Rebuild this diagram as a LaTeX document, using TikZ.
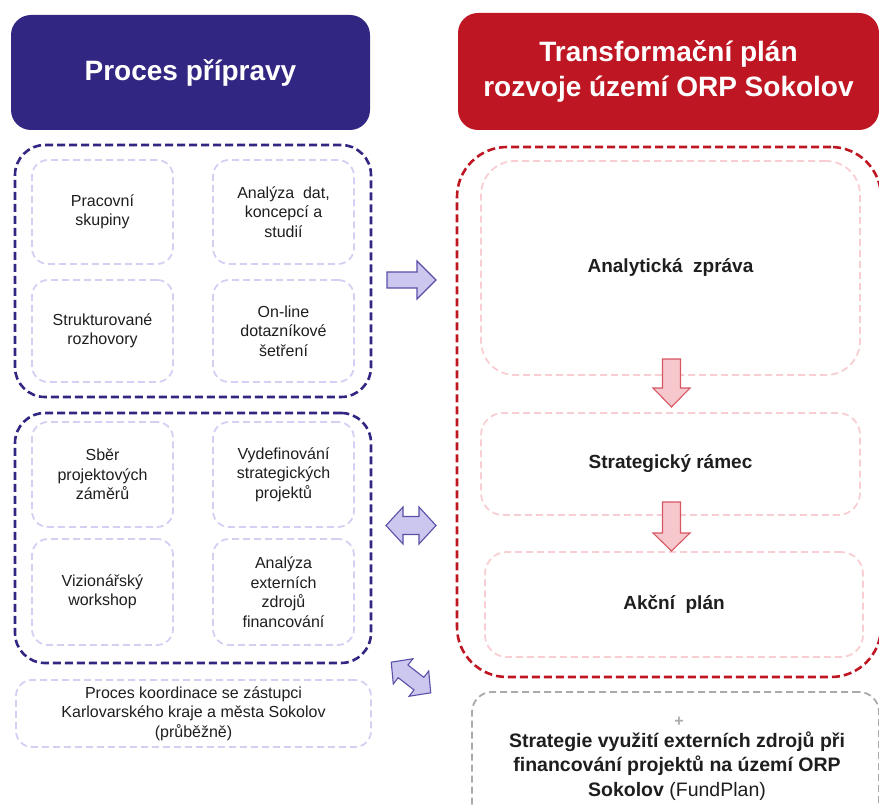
\documentclass[tikz,border=0pt]{standalone}
\usepackage{fontspec}
\setmainfont{Liberation Sans}
\definecolor{navy}{RGB}{49,39,131}
\definecolor{dred}{RGB}{190,22,34}
\definecolor{lav}{RGB}{212,207,243}
\definecolor{pinkl}{RGB}{248,206,210}
\definecolor{lavfill}{RGB}{204,199,238}
\definecolor{lavline}{RGB}{88,80,168}
\definecolor{pinkfill}{RGB}{246,199,204}
\definecolor{pinkline}{RGB}{214,86,98}
\definecolor{greyd}{RGB}{170,170,170}
\definecolor{txt}{RGB}{30,30,30}
\begin{document}
\begin{tikzpicture}[x=1pt,y=-1pt,
  header/.style={fill=#1, draw=none, rounded corners=20pt, text=white,
    font=\fontsize{28}{35}\selectfont\bfseries, align=center, inner sep=0pt, outer sep=0pt},
  outerbox/.style={draw=#1, line width=2.6pt, dash pattern=on 8pt off 4pt,
    rounded corners=30pt, inner sep=0pt, outer sep=0pt},
  itembox/.style={draw=lav, line width=1.8pt, dash pattern=on 7pt off 4pt,
    rounded corners=16pt, align=center, text=txt,
    font=\fontsize{16}{19.5}\selectfont, inner sep=0pt, outer sep=0pt},
  stagebox/.style={draw=pinkl, line width=1.8pt, dash pattern=on 7pt off 4pt,
    rounded corners=#1, align=center, text=txt,
    font=\fontsize{19}{23}\selectfont\bfseries, inner sep=0pt, outer sep=0pt},
  larrow/.style={fill=lavfill, draw=lavline, line width=1.1pt, line join=miter},
  parrow/.style={fill=pinkfill, draw=pinkline, line width=1.1pt, line join=miter}
]
\useasboundingbox (0,0) rectangle (879,805);

% headers
\node[header=navy, minimum width=359, minimum height=115] (hl) at (190.5,72.5) {Proces přípravy};
\node[header=dred, minimum width=421, minimum height=117] (hr) at (668.5,71.5) {Transformační plán\\rozvoje území ORP Sokolov};

% left group 1
\node[outerbox=navy, minimum width=356, minimum height=252] (g1) at (193,271) {};
\node[itembox, minimum width=141, minimum height=104] (pw) at (102.5,212) {Pracovní\\skupiny};
\node[itembox, minimum width=141, minimum height=104] (an) at (283.5,212) {Analýza\ \ dat,\\koncepcí a\\studií};
\node[itembox, minimum width=141, minimum height=102] (st) at (102.5,331) {Strukturované\\rozhovory};
\node[itembox, minimum width=141, minimum height=102] (ol) at (283.5,331) {On-line\\dotazníkové\\šetření};

% left group 2
\node[outerbox=navy, minimum width=356, minimum height=250] (g2) at (193,538) {};
\node[itembox, minimum width=141, minimum height=105] (sb) at (102.5,474.5) {Sběr\\projektových\\záměrů};
\node[itembox, minimum width=141, minimum height=105] (vd) at (283.5,474.5) {Vydefinování\\strategických\\projektů};
\node[itembox, minimum width=141, minimum height=106] (vw) at (102.5,592) {Vizionářský\\workshop};
\node[itembox, minimum width=141, minimum height=106] (ae) at (283.5,592) {Analýza\\externích\\zdrojů\\financování};

% coordination box
\node[itembox, minimum width=355, minimum height=67] (ko) at (193.5,713.5) {Proces koordinace se zástupci\\Karlovarského kraje a města Sokolov\\(průběžně)};

% right group
\node[outerbox=dred, rounded corners=50pt, minimum width=424, minimum height=530] (gr) at (669,412) {};
\node[stagebox=34pt, minimum width=379, minimum height=214] (az) at (670.5,268) {Analytická\ \ zpráva};
\node[stagebox=22pt, minimum width=379, minimum height=102] (sr) at (670.5,464) {Strategický rámec};
\node[stagebox=22pt, minimum width=378, minimum height=105] (ap) at (674,604.5) {Akční\ \ plán};

% fundplan box
\node[draw=greyd, line width=1.8pt, dash pattern=on 7pt off 4pt, rounded corners=20pt,
  minimum width=407, minimum height=150, inner sep=0pt] (fp) at (675.5,767) {};
\node[text=greyd, font=\fontsize{16}{18}\selectfont\bfseries] (plus) at (679,722) {+};
\node[text=txt, align=center, font=\fontsize{19.5}{24.5}\selectfont\bfseries] (fpt) at (677,766)
  {Strategie využití externích zdrojů při\\financování projektů na území ORP\\Sokolov \textnormal{(FundPlan)}};

% lavender arrows
\draw[larrow] (387,272) -- (417,272) -- (417,261) -- (436,280) -- (417,299) -- (417,288) -- (387,288) -- cycle;
\draw[larrow] (386,525.5) -- (403,507) -- (403,516.5) -- (419,516.5) -- (419,507) -- (436,525.5)
  -- (419,544) -- (419,534.5) -- (403,534.5) -- (403,544) -- cycle;
\begin{scope}[shift={(411,677.5)}, rotate=-37.8]
\draw[larrow] (-25,0) -- (-10,16) -- (-10,8) -- (10,8) -- (10,16) -- (25,0) -- (10,-16) -- (10,-8)
  -- (-10,-8) -- (-10,-16) -- cycle;
\end{scope}

% pink arrows
\draw[parrow] (662.5,359) -- (680.5,359) -- (680.5,388) -- (690,388) -- (671.5,407) -- (653,388) -- (662.5,388) -- cycle;
\draw[parrow] (662.5,502) -- (680.5,502) -- (680.5,533) -- (690,533) -- (671.5,551) -- (653,533) -- (662.5,533) -- cycle;
\end{tikzpicture}
\end{document}
